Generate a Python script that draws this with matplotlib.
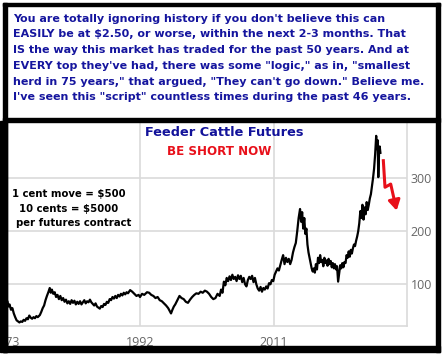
import matplotlib
matplotlib.use("Agg")
import matplotlib.pyplot as plt
from matplotlib.patches import Rectangle

# feeder cattle futures, cents/lb
years = [1972.6, 1972.8, 1973.0, 1973.2, 1973.35, 1973.5, 1973.7, 1973.9, 1974.1, 1974.3,
         1974.5, 1974.7, 1974.9, 1975.1, 1975.3, 1975.5, 1975.7, 1975.9, 1976.1, 1976.3,
         1976.5, 1976.7, 1976.9, 1977.1, 1977.3, 1977.5, 1977.8, 1978.0, 1978.2, 1978.4,
         1978.6, 1978.8, 1979.0, 1979.2, 1979.35, 1979.5, 1979.7, 1979.9, 1980.1, 1980.3,
         1980.5, 1980.7, 1980.9, 1981.1, 1981.3, 1981.5, 1981.7, 1981.9, 1982.1, 1982.3,
         1982.5, 1982.7, 1982.9, 1983.1, 1983.3, 1983.5, 1983.7, 1983.9, 1984.1, 1984.3,
         1984.5, 1984.7, 1984.9, 1985.1, 1985.3, 1985.5, 1985.7, 1985.9, 1986.1, 1986.3,
         1986.5, 1986.7, 1986.9, 1987.1, 1987.3, 1987.5, 1987.7, 1987.9, 1988.1, 1988.3,
         1988.5, 1988.7, 1988.9, 1989.1, 1989.3, 1989.5, 1989.7, 1989.9, 1990.1, 1990.3,
         1990.6, 1990.9, 1991.2, 1991.5, 1991.8, 1992.0, 1992.3, 1992.6, 1993.0, 1993.3,
         1993.6, 1993.9, 1994.2, 1994.5, 1994.8, 1995.1, 1995.4, 1995.7, 1996.0, 1996.2,
         1996.4, 1996.6, 1996.8, 1997.0, 1997.3, 1997.6, 1997.9, 1998.2, 1998.5, 1998.8,
         1999.1, 1999.4, 1999.7, 2000.0, 2000.3, 2000.6, 2000.9, 2001.2, 2001.5, 2001.8,
         2002.1, 2002.4, 2002.7, 2003.0, 2003.3, 2003.5, 2003.7, 2003.9, 2004.1, 2004.3,
         2004.5, 2004.7, 2004.9, 2005.1, 2005.3, 2005.5, 2005.7, 2005.9, 2006.1, 2006.3,
         2006.5, 2006.7, 2006.9, 2007.1, 2007.3, 2007.5, 2007.7, 2007.9, 2008.1, 2008.3,
         2008.5, 2008.7, 2008.9, 2009.1, 2009.3, 2009.5, 2009.7, 2009.9, 2010.1, 2010.3,
         2010.5, 2010.7, 2010.9, 2011.1, 2011.3, 2011.5, 2011.7, 2011.9, 2012.1, 2012.3,
         2012.5, 2012.7, 2012.9, 2013.1, 2013.3, 2013.5, 2013.7, 2013.9, 2014.1, 2014.3,
         2014.5, 2014.7, 2014.85, 2015.0, 2015.15, 2015.3, 2015.45, 2015.6, 2015.75, 2015.9,
         2016.05, 2016.2, 2016.35, 2016.5, 2016.65, 2016.8, 2016.95, 2017.1, 2017.25, 2017.4,
         2017.55, 2017.7, 2017.85, 2018.0, 2018.15, 2018.3, 2018.45, 2018.6, 2018.75, 2018.9,
         2019.05, 2019.2, 2019.35, 2019.5, 2019.65, 2019.8, 2019.95, 2020.1, 2020.25, 2020.4,
         2020.55, 2020.7, 2020.85, 2021.0, 2021.15, 2021.3, 2021.45, 2021.6, 2021.75, 2021.9,
         2022.05, 2022.2, 2022.35, 2022.5, 2022.65, 2022.8, 2022.95, 2023.1, 2023.25, 2023.4,
         2023.55, 2023.7, 2023.85, 2024.0, 2024.15, 2024.3, 2024.45, 2024.6, 2024.75, 2024.9,
         2025.05, 2025.2, 2025.35, 2025.5, 2025.6, 2025.7, 2025.8, 2025.9, 2026.0, 2026.1]
prices = [50, 55, 60, 68, 58, 62, 52, 55, 45, 38,
          32, 30, 28, 30, 29, 33, 31, 36, 34, 41,
          37, 35, 38, 36, 40, 38, 42, 48, 55, 60,
          70, 78, 85, 93, 84, 90, 82, 85, 76, 80,
          72, 78, 70, 74, 67, 71, 64, 68, 63, 70,
          65, 69, 62, 67, 63, 68, 62, 66, 70, 64,
          68, 66, 71, 66, 63, 60, 64, 58, 56, 54,
          59, 57, 63, 61, 67, 65, 72, 70, 76, 73,
          78, 74, 80, 77, 82, 79, 84, 81, 85, 83,
          89, 86, 82, 78, 80, 76, 82, 80, 85, 84,
          80, 78, 74, 76, 70, 68, 64, 60, 55, 50,
          45, 52, 58, 62, 70, 78, 74, 72, 67, 65,
          71, 76, 80, 83, 82, 86, 84, 88, 86, 82,
          76, 72, 74, 82, 78, 90, 84, 105, 98, 112,
          106, 115, 108, 118, 110, 114, 106, 117, 110, 116,
          104, 112, 100, 96, 108, 114, 110, 116, 104, 112,
          100, 92, 88, 95, 86, 93, 90, 96, 92, 102,
          100, 108, 106, 118, 124, 130, 126, 136, 146, 155,
          138, 150, 142, 148, 138, 146, 160, 170, 178, 200,
          225, 242, 218, 236, 205, 225, 195, 205, 175, 160,
          150, 140, 130, 124, 130, 122, 138, 128, 150, 140,
          155, 142, 146, 134, 150, 140, 145, 135, 148, 138,
          144, 132, 140, 130, 138, 128, 134, 105, 120, 136,
          130, 140, 132, 142, 140, 155, 150, 162, 152, 165,
          158, 168, 175, 172, 182, 190, 200, 215, 238, 225,
          250, 222, 245, 232, 255, 240, 250, 262, 270, 285,
          300, 318, 345, 380, 355, 372, 302, 345, 360, 348]

# red "be short" zigzag arrow
arrow_years = [2026.5, 2026.75, 2027.56, 2028.4]
arrow_prices = [336, 283, 289, 239]

x_ticks = [1973, 1992, 2011]
x_labels = ["1973", "1992", "2011"]
y_ticks = [100, 200, 300]

headline = [
    "You are totally ignoring history if you don't believe this can",
    "EASILY be at $2.50, or worse, within the next 2-3 months. That",
    "IS the way this market has traded for the past 50 years. And at",
    "EVERY top they've had, there was some \"logic,\" as in, \"smallest",
    "herd in 75 years,\" that argued, \"They can't go down.\" Believe me.",
    "I've seen this \"script\" countless times during the past 46 years.",
]
contract_notes = ["1 cent move = $500", "10 cents = $5000", "per futures contract"]

W, H = 445, 357
fig = plt.figure(figsize=(W / 100, H / 100), dpi=100)
fig.patch.set_facecolor("white")


def fx(px):
    return px / W


def fy(py):
    return 1 - py / H


ax = fig.add_axes([fx(3), fy(326), fx(407) - fx(3), fy(121) - fy(326)])
ax.plot(years, prices, color="black", lw=1.6)
ax.set_xlim(1972.57, 2029.87)
ax.set_ylim(21.3, 408)

grid_c = "#dadada"
ax.set_xticks(x_ticks)
ax.set_xticklabels(x_labels)
ax.set_yticks(y_ticks)
ax.yaxis.tick_right()
ax.grid(True, color=grid_c, lw=1.2)
ax.tick_params(length=0, labelsize=9, labelcolor="#666666")
ax.tick_params(axis="x", pad=7.5)
ax.tick_params(axis="y", pad=2.5)
for lab in ax.get_xticklabels() + ax.get_yticklabels():
    lab.set_family("Open Sans")
for s in ["top", "left"]:
    ax.spines[s].set_visible(False)
for s in ["bottom", "right"]:
    ax.spines[s].set_color(grid_c)
    ax.spines[s].set_linewidth(1.2)

red = "#e8101a"
ax.plot(arrow_years[:3], arrow_prices[:3], color=red, lw=2.2, solid_capstyle="butt")
ax.annotate("", xy=(arrow_years[3], arrow_prices[3]),
            xytext=(arrow_years[2], arrow_prices[2]),
            arrowprops=dict(arrowstyle="-|>,head_length=0.6,head_width=0.35",
                            color=red, lw=2.2, shrinkA=0, shrinkB=0))

# texts inside the chart
fig.text(fx(224), fy(135.5), "Feeder Cattle Futures", color="#12129a",
         fontsize=9.3, fontweight="bold", ha="center", va="baseline")
fig.text(fx(219.5), fy(155), "BE SHORT NOW", color=red,
         fontsize=8.6, fontweight="bold", ha="center", va="baseline")
for txt, cx, by in zip(contract_notes, [69, 68.5, 74], [197, 212, 226]):
    fig.text(fx(cx), fy(by), txt, color="black", fontsize=7.3,
             fontweight="bold", ha="center", va="baseline")

# headline block
for i, line in enumerate(headline):
    fig.text(fx(13), fy(21.5 + i * 15.8), line, color="#15159e",
             fontsize=8.05, fontweight="bold", ha="left", va="baseline")

# black frame around both panels
frame = [(3, 3, 437, 3), (3, 3, 4, 349), (436, 3, 4, 349), (3, 118, 437, 3.5),
         (0, 121, 7, 231), (3, 346, 437, 5.5)]
white = [(0, 0, 3, 121), (440, 0, 5, H), (0, 351.5, W, 6)]
for x0, y0, w, h in white:
    fig.patches.append(Rectangle((fx(x0), fy(y0 + h)), fx(w), h / H,
                                 transform=fig.transFigure, color="white", zorder=5))
for x0, y0, w, h in frame:
    fig.patches.append(Rectangle((fx(x0), fy(y0 + h)), fx(w), h / H,
                                 transform=fig.transFigure, color="black", zorder=6))

fig.savefig("out.png", dpi=100)
